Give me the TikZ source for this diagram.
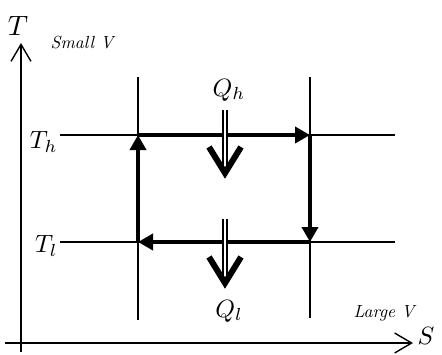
\documentclass[tikz,border=0pt]{standalone}
\usetikzlibrary{arrows.meta}
\begin{document}
\begin{tikzpicture}[x=1pt,y=-1pt,
  axis/.style={line width=1.4pt,-{Straight Barb[length=17pt,width=20pt]}},
  grid/.style={line width=1.2pt},
  cycle/.style={line width=4pt,-{Triangle[length=15pt,width=16pt]}},
  shaft/.style={double,line width=1.3pt,double distance=2.6pt},
  chevron/.style={line width=6pt,miter limit=20},
  big/.style={inner sep=0pt,scale=2.5},
  small/.style={inner sep=0pt,scale=1.75,font=\itshape}]
\useasboundingbox (0,0) rectangle (442,354);
% axes
\coordinate (o) at (21,352);
\coordinate (ty) at (21,43);
\coordinate (sx0) at (5,343);
\coordinate (sx) at (413,343);
\draw[axis] (o) -- (ty);
\draw[axis] (sx0) -- (sx);
\node[inner sep=0pt,scale=2.8] (tlab) at (18,26) {$T$};
\node[big] (slab) at (426,336) {$S$};
\node[small] (sv) at (82,43) {Small V};
\node[small] (lv) at (384,313) {Large V};
% isotherms and isentropes
\coordinate (a1) at (60,135);  \coordinate (a2) at (395,135);
\coordinate (b1) at (60,242);  \coordinate (b2) at (395,242);
\coordinate (c1) at (138,77);  \coordinate (c2) at (138,320);
\coordinate (d1) at (310,77);  \coordinate (d2) at (310,318);
\draw[grid] (a1) -- (a2);
\draw[grid] (b1) -- (b2);
\draw[grid] (c1) -- (c2);
\draw[grid] (d1) -- (d2);
\node[big,anchor=east] (th) at (58,142) {$T_h$};
\node[big,anchor=east] (tl) at (58,246) {$T_l$};
% Carnot cycle
\coordinate (p1) at (138,135);
\coordinate (p2) at (310,135);
\coordinate (p3) at (310,242);
\coordinate (p4) at (138,242);
\draw[cycle] (p1) -- (p2);
\draw[cycle] (p2) -- (p3);
\draw[cycle] (p3) -- (p4);
\draw[cycle] (p4) -- (p1);
% heat flows
\node[big] (qh) at (229,90) {$Q_h$};
\coordinate (qh1) at (225,110);
\coordinate (qh2) at (225,173);
\draw[shaft] (qh1) -- (qh2);
\draw[chevron] ([shift={(-16,-26)}]qh2) -- (qh2) -- ([shift={(16,-26)}]qh2);
\coordinate (ql1) at (225,219);
\coordinate (ql2) at (225,283);
\draw[shaft] (ql1) -- (ql2);
\draw[chevron] ([shift={(-16,-26)}]ql2) -- (ql2) -- ([shift={(16,-26)}]ql2);
\node[big] (qlab) at (229,311) {$Q_l$};
\end{tikzpicture}
\end{document}
